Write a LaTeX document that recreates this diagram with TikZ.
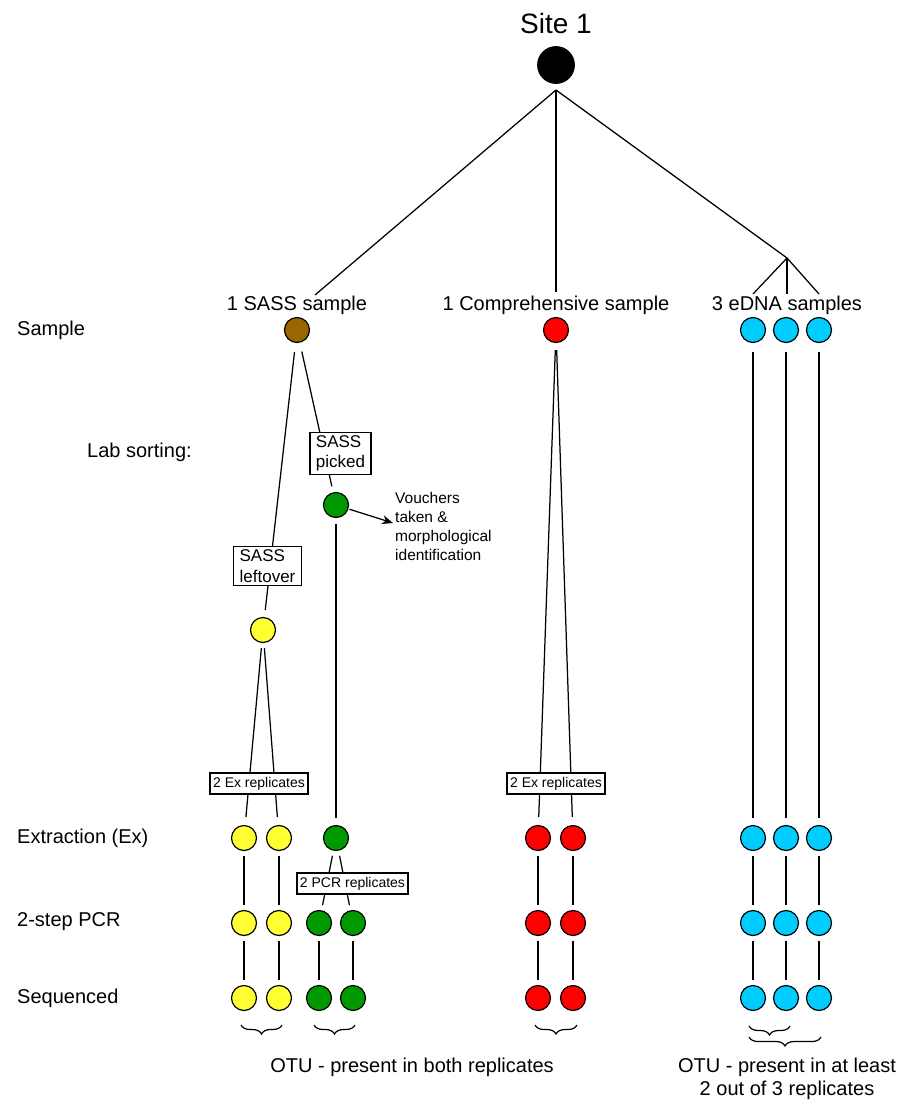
\documentclass[tikz,border=0pt]{standalone}
\usepackage{fontspec}
\setmainfont{Liberation Sans}
\usetikzlibrary{decorations.pathreplacing,arrows.meta}
\definecolor{cbrown}{RGB}{153,102,0}
\definecolor{cyel}{RGB}{255,255,51}
\definecolor{cgreen}{RGB}{0,153,0}
\definecolor{cred}{RGB}{255,0,0}
\definecolor{ccyan}{RGB}{0,204,255}
\begin{document}
\begin{tikzpicture}[x=1pt,y=-1pt,
  dot/.style={circle,draw,line width=1.2pt,minimum size=25pt,inner sep=0pt},
  conn/.style={line width=1.25pt},
  lbl/.style={font=\fontsize{20}{23}\selectfont,inner sep=0pt},
  box/.style={draw,fill=white,line width=1.2pt,align=left,font=\fontsize{17}{20.5}\selectfont,inner xsep=6pt,inner ysep=3pt},
  sbox/.style={draw,fill=white,line width=1.2pt,font=\fontsize{14}{16}\selectfont,inner xsep=3pt,inner ysep=4pt},
  brc/.style={decorate,decoration={brace,mirror,amplitude=9pt},line width=1.2pt}
]
\useasboundingbox (0,0) rectangle (912,1101);

% top
\node[lbl,font=\fontsize{28}{32}\selectfont] (site) at (556,23) {Site 1};
\node[dot,fill=black,minimum size=36.6pt] (s1) at (556,65) {};
\coordinate (hub) at (556,90);

\node[lbl] (tsass) at (297,305) {1 SASS sample};
\node[lbl] (tcomp) at (556,305) {1 Comprehensive sample};
\node[lbl] (tedna) at (787,305) {3 eDNA samples};
\coordinate (sassTop) at (315,295);
\coordinate (compTop) at (556,292);
\coordinate (ej) at (787,258);
\coordinate (et1) at (753,294);
\coordinate (et2) at (787,294);
\coordinate (et3) at (819,294);

\draw[conn] (hub) -- (sassTop);
\draw[conn] (hub) -- (compTop);
\draw[conn] (hub) -- (ej);
\draw[conn] (ej) -- (et1);
\draw[conn] (ej) -- (et2);
\draw[conn] (ej) -- (et3);

% left labels
\node[lbl,anchor=west] (lsample) at (17,330) {Sample};
\node[lbl,anchor=west] (llab) at (87,452) {Lab sorting:};
\node[lbl,anchor=west] (lex) at (17,838) {Extraction (Ex)};
\node[lbl,anchor=west] (lpcr) at (17,922) {2-step PCR};
\node[lbl,anchor=west] (lseq) at (17,998) {Sequenced};

% sample row
\node[dot,fill=cbrown] (br) at (297,330) {};
\node[dot,fill=cred] (rs) at (556,330) {};
\node[dot,fill=ccyan] (cs1) at (753,330) {};
\node[dot,fill=ccyan] (cs2) at (786,330) {};
\node[dot,fill=ccyan] (cs3) at (819,330) {};

% SASS sorting
\node[dot,fill=cgreen] (gp) at (336,505) {};
\node[dot,fill=cyel] (yl) at (263,630) {};

% extraction row
\node[dot,fill=cyel] (yx1) at (244,838) {};
\node[dot,fill=cyel] (yx2) at (279,838) {};
\node[dot,fill=cgreen] (gx) at (336,838) {};
\node[dot,fill=cred] (rx1) at (538,838) {};
\node[dot,fill=cred] (rx2) at (573,838) {};
\node[dot,fill=ccyan] (cx1) at (753,838) {};
\node[dot,fill=ccyan] (cx2) at (786,838) {};
\node[dot,fill=ccyan] (cx3) at (819,838) {};

% PCR row
\node[dot,fill=cyel] (yp1) at (244,923) {};
\node[dot,fill=cyel] (yp2) at (279,923) {};
\node[dot,fill=cgreen] (gp1) at (319,923) {};
\node[dot,fill=cgreen] (gp2) at (353,923) {};
\node[dot,fill=cred] (rp1) at (538,923) {};
\node[dot,fill=cred] (rp2) at (573,923) {};
\node[dot,fill=ccyan] (cp1) at (753,923) {};
\node[dot,fill=ccyan] (cp2) at (786,923) {};
\node[dot,fill=ccyan] (cp3) at (819,923) {};

% sequenced row
\node[dot,fill=cyel] (yq1) at (244,998) {};
\node[dot,fill=cyel] (yq2) at (279,998) {};
\node[dot,fill=cgreen] (gq1) at (319,998) {};
\node[dot,fill=cgreen] (gq2) at (353,998) {};
\node[dot,fill=cred] (rq1) at (538,998) {};
\node[dot,fill=cred] (rq2) at (573,998) {};
\node[dot,fill=ccyan] (cq1) at (753,998) {};
\node[dot,fill=ccyan] (cq2) at (786,998) {};
\node[dot,fill=ccyan] (cq3) at (819,998) {};

% connectors
\draw[conn,shorten <=9pt,shorten >=6pt] (br) -- (gp);
\draw[conn,shorten <=9pt,shorten >=7pt] (br) -- (yl);
\draw[conn,shorten <=6pt,shorten >=7pt] (gp) -- (gx);
\draw[conn,shorten <=5pt,shorten >=8pt] (yl) -- (yx1);
\draw[conn,shorten <=5pt,shorten >=8pt] (yl) -- (yx2);
\draw[conn,shorten <=7pt,shorten >=8pt] (rs) -- (rx1);
\draw[conn,shorten <=7pt,shorten >=8pt] (rs) -- (rx2);
\foreach \i in {1,2,3}{
  \draw[conn,shorten <=9pt,shorten >=7pt] (cs\i) -- (cx\i);
  \draw[conn,shorten <=5pt,shorten >=5pt] (cx\i) -- (cp\i);
  \draw[conn,shorten <=5pt,shorten >=5pt] (cp\i) -- (cq\i);
}
\foreach \a in {y,r}{
  \foreach \i in {1,2}{
    \draw[conn,shorten <=5pt,shorten >=5pt] (\a x\i) -- (\a p\i);
    \draw[conn,shorten <=5pt,shorten >=5pt] (\a p\i) -- (\a q\i);
  }
}
\draw[conn,shorten <=5pt,shorten >=5pt] (gx) -- (gp1);
\draw[conn,shorten <=5pt,shorten >=5pt] (gx) -- (gp2);
\draw[conn,shorten <=5pt,shorten >=5pt] (gp1) -- (gq1);
\draw[conn,shorten <=5pt,shorten >=5pt] (gp2) -- (gq2);

% boxes
\node[box] (bpick) at (340.5,453.5) {SASS\\picked};
\node[box] (bleft) at (267.5,566) {SASS\\leftover};
\node[sbox] (bexy) at (259,783.5) {2 Ex replicates};
\node[sbox] (bexr) at (556,783.5) {2 Ex replicates};
\node[sbox] (bpcr) at (352.5,883.5) {2 PCR replicates};

% vouchers
\node[anchor=west,align=left,inner sep=0pt,font=\fontsize{15.5}{19}\selectfont] (vouch) at (395,526) {Vouchers\\taken \&\\morphological\\identification};
\coordinate (vend) at (393,523);
\draw[conn,-{Stealth[length=11pt,width=9pt]},shorten <=1pt] (gp) -- (vend);

% braces
\draw[brc] (241,1025) -- (282,1025);
\draw[brc] (314,1025) -- (355,1025);
\draw[brc] (535,1025) -- (577,1025);
\draw[brc] (749,1026) -- (790,1026);
\draw[brc] (749,1037) -- (821,1037);

\node[lbl] (otu1) at (412,1067) {OTU - present in both replicates};
\node[lbl,align=center] (otu2) at (787,1078.5) {OTU - present in at least\\2 out of 3 replicates};
\end{tikzpicture}
\end{document}
